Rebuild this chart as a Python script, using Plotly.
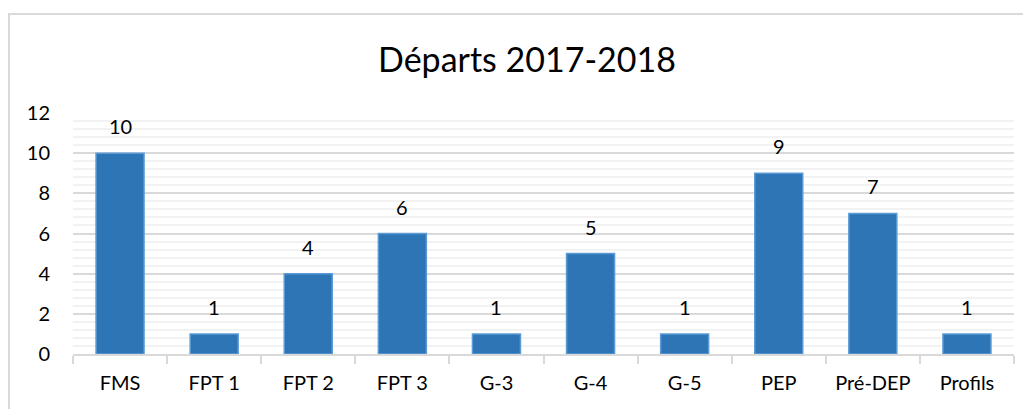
import plotly.graph_objects as go

categories = ["FMS", "FPT 1", "FPT 2", "FPT 3", "G-3", "G-4", "G-5", "PEP", "Pré-DEP", "Profils"]
values = [10, 1, 4, 6, 1, 5, 1, 9, 7, 1]
y_ticks = [0, 2, 4, 6, 8, 10, 12]

OFF = 8  # page body margin
W, H = 1031 - OFF, 409 - OFF
L, R, T, B = 73 - OFF, 17, 113 - OFF, 55
pw, ph = W - L - R, H - T - B

fig = go.Figure(go.Bar(
    x=categories, y=values,
    marker=dict(color="#2e75b6", line=dict(color="#5b9bd5", width=1.5)),
    hoverinfo="skip",
))

for c, v in zip(categories, values):
    fig.add_annotation(x=c, y=v, text=str(v), showarrow=False, yanchor="bottom",
                       yshift=13, font=dict(size=20, color="#000000"))

fig.add_shape(type="rect", xref="paper", yref="paper",
              x0=(9 - OFF - L) / pw, x1=(1030 - OFF - L) / pw,
              y0=-(B + 20) / ph, y1=(ph + T - (14 - OFF)) / ph,
              line=dict(color="#d9d9d9", width=2), fillcolor="rgba(0,0,0,0)", layer="below")

fig.update_layout(
    width=W, height=H,
    margin=dict(l=L, r=R, t=T, b=B),
    paper_bgcolor="white", plot_bgcolor="white",
    font=dict(family="Lato, Carlito, Calibri, sans-serif", color="#000000"),
    title=dict(text="Départs 2017-2018", x=(527 - OFF) / W, xref="container", xanchor="center",
               y=1 - (60 - OFF) / H, yanchor="middle", font=dict(size=34, color="#000000")),
    bargap=0.49,
    showlegend=False,
)
fig.update_xaxes(
    showgrid=False, showline=True, linecolor="#d9d9d9", linewidth=2,
    ticks="outside", tickson="boundaries", ticklen=8, tickcolor="#d9d9d9", tickwidth=2,
    tickfont=dict(size=20), ticklabelstandoff=10,
)
fig.update_yaxes(
    range=[0, 12], tickvals=y_ticks, showline=False, zeroline=False,
    showgrid=True, gridcolor="#d9d9d9", gridwidth=2,
    minor=dict(dtick=0.4, showgrid=True, gridcolor="#f2f2f2", gridwidth=2),
    tickfont=dict(size=20), ticklabelstandoff=22,
)

fig.write_html("out.html")
